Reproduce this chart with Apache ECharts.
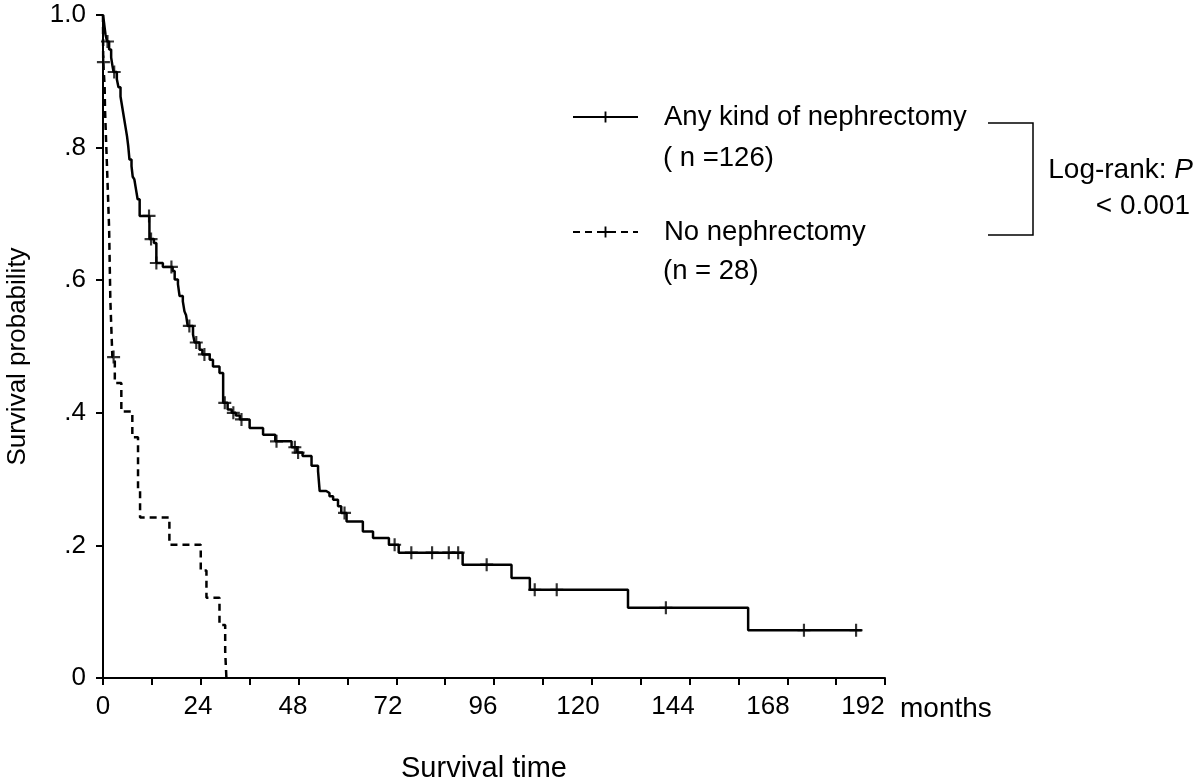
<!DOCTYPE html>
<html>
<head>
<meta charset="utf-8">
<script src="https://cdn.jsdelivr.net/npm/echarts@6/dist/echarts.min.js"></script>
<style>
html,body{margin:0;padding:0;background:#fff;}
#chart{width:1200px;height:783px;}
</style>
</head>
<body>
<div id="chart"></div>
<script>
// ---- Data ----
const seriesNames = ['Any kind of nephrectomy', 'No nephrectomy'];
const seriesCounts = ['( n =126)', '(n = 28)'];

// Kaplan-Meier step levels: survival S from month t onward
const nephTime = [0, 0.3, 0.6, 1.0, 1.5, 2.0, 2.3, 2.6, 3.4, 3.8, 4.3, 4.7, 5.1, 5.5, 5.9, 6.2, 6.5, 7.0, 7.3, 7.7, 8.1, 8.5, 9.0, 11.4, 12.5, 13.1, 14.7, 17.1, 17.6, 18.4, 18.8, 19.6, 20.0, 20.4, 20.8, 22.1, 22.5, 23.7, 24.4, 26.2, 27.0, 28.6, 29.5, 30.6, 31.6, 32.6, 33.6, 36.0, 39.3, 42.3, 46.3, 47.6, 49.0, 51.2, 52.8, 53.2, 54.8, 55.6, 56.5, 57.7, 58.5, 59.8, 63.8, 66.3, 70.2, 72.6, 88.3, 100.3, 104.8, 128.9, 158.4, 186.3];
const nephSurv = [1.000, 0.986, 0.971, 0.960, 0.948, 0.936, 0.924, 0.914, 0.903, 0.891, 0.877, 0.862, 0.847, 0.832, 0.817, 0.802, 0.782, 0.772, 0.756, 0.752, 0.737, 0.722, 0.697, 0.662, 0.656, 0.626, 0.620, 0.614, 0.601, 0.594, 0.576, 0.568, 0.553, 0.547, 0.531, 0.518, 0.506, 0.495, 0.488, 0.480, 0.470, 0.460, 0.415, 0.405, 0.400, 0.396, 0.390, 0.377, 0.367, 0.357, 0.348, 0.340, 0.335, 0.320, 0.312, 0.282, 0.279, 0.274, 0.269, 0.259, 0.249, 0.236, 0.221, 0.211, 0.201, 0.189, 0.171, 0.151, 0.133, 0.106, 0.072, 0.072];
const nephCensTime = [1.1, 2.75, 11.3, 11.8, 13.1, 16.8, 21.2, 22.9, 24.9, 29.9, 32.0, 34.0, 42.6, 47.1, 47.9, 59.3, 71.6, 75.7, 80.8, 84.9, 87.2, 94.2, 106.0, 111.4, 138.2, 172.1, 184.9];
const nephCensSurv = [0.960, 0.914, 0.697, 0.662, 0.626, 0.620, 0.531, 0.506, 0.488, 0.415, 0.400, 0.390, 0.357, 0.348, 0.340, 0.249, 0.201, 0.189, 0.189, 0.189, 0.189, 0.171, 0.133, 0.133, 0.106, 0.072, 0.072];

const noNephTime = [0, 0.05, 0.4, 0.5, 0.7, 0.9, 1.1, 1.3, 1.5, 1.6, 1.7, 1.8, 2.0, 2.3, 2.9, 4.5, 7.2, 8.6, 9.1, 16.3, 24.0, 25.4, 28.6, 30.0, 30.3];
const noNephSurv = [1.000, 0.929, 0.893, 0.857, 0.821, 0.786, 0.750, 0.714, 0.679, 0.643, 0.607, 0.571, 0.536, 0.484, 0.445, 0.402, 0.363, 0.282, 0.242, 0.201, 0.162, 0.121, 0.080, 0.040, 0.000];
const noNephCensTime = [0.1, 2.6];
const noNephCensSurv = [0.929, 0.484];

const xTicks = [0, 24, 48, 72, 96, 120, 144, 168, 192];
const yTickLabels = {0: '0', 0.2: '.2', 0.4: '.4', 0.6: '.6', 0.8: '.8', 1: '1.0'};
const xUnit = 'months';
const xTitle = 'Survival time';
const yTitle = 'Survival probability';
const testLabel = 'Log-rank: ';
const testP = 'P';
const testValue = '< 0.001';

// ---- Chart ----
const FONT = '"Liberation Sans", Arial, Helvetica, sans-serif';
const plus = 'path://M5,0 H7 V5 H12 V7 H7 V12 H5 V7 H0 V5 H5 Z';
const zip = (a, b) => a.map((v, i) => [v, b[i]]);

// In the reference the x tick labels drift slightly left of their ticks
const xMax = xTicks[xTicks.length - 1];
const xRich = {};
xTicks.forEach(v => {
  const shift = 22 * v / xMax;
  xRich['t' + v] = {fontSize: 26, fontFamily: FONT, color: '#000', padding: [0, 2 * shift, 0, 0]};
});

const chart = echarts.init(document.getElementById('chart'), null, {renderer: 'canvas'});
chart.setOption({
  animation: false,
  backgroundColor: '#fff',
  textStyle: {fontFamily: FONT, color: '#000'},
  grid: {left: 103, right: 315, top: 15, bottom: 105, containLabel: false, outerBoundsMode: 'none'},
  xAxis: {
    type: 'value', min: xTicks[0], max: xMax, interval: 24,
    name: xTitle, nameLocation: 'middle', nameGap: 76,
    nameTextStyle: {fontSize: 29, color: '#000', fontFamily: FONT, padding: [0, 20, 0, 0]},
    axisLine: {lineStyle: {color: '#000', width: 2}},
    axisTick: {length: 7, lineStyle: {color: '#000', width: 2}},
    minorTick: {show: true, splitNumber: 2, length: 7, lineStyle: {color: '#000', width: 2}},
    axisLabel: {fontSize: 26, color: '#000', margin: 16, fontFamily: FONT,
      formatter: v => '{t' + v + '|' + v + '}', rich: xRich},
    splitLine: {show: false}
  },
  yAxis: {
    type: 'value', min: 0, max: 1, interval: 0.2,
    name: yTitle, nameLocation: 'middle', nameGap: 72, nameRotate: 90,
    nameTextStyle: {fontSize: 26, color: '#000', fontFamily: FONT, padding: [0, 20, 0, 0]},
    axisLine: {show: true, lineStyle: {color: '#000', width: 2}},
    axisTick: {show: true, length: 7, lineStyle: {color: '#000', width: 2}},
    axisLabel: {fontSize: 26, color: '#000', margin: 17, fontFamily: FONT,
      formatter: v => yTickLabels[Math.round(v * 10) / 10]},
    splitLine: {show: false}
  },
  legend: {
    data: seriesNames,
    orient: 'vertical', left: 567, top: 98,
    itemWidth: 65, itemHeight: 14, itemGap: 87,
    textStyle: {fontSize: 27.5, color: '#000', fontFamily: FONT, padding: [0, 0, 0, 21]}
  },
  series: [
    {
      name: seriesNames[0], type: 'line', step: 'end',
      data: zip(nephTime, nephSurv),
      symbol: plus, showSymbol: false, color: '#000',
      lineStyle: {color: '#000', width: 2.5}, z: 3
    },
    {
      name: seriesNames[1], type: 'line', step: 'end',
      data: zip(noNephTime, noNephSurv),
      symbol: plus, showSymbol: false, color: '#000',
      lineStyle: {color: '#000', width: 2.5, type: [7, 5]}, z: 3
    },
    {
      name: seriesNames[0] + ' censored', type: 'scatter',
      data: zip(nephCensTime, nephCensSurv),
      symbol: plus, symbolSize: 13, itemStyle: {color: '#000'}, z: 4
    },
    {
      name: seriesNames[1] + ' censored', type: 'scatter',
      data: zip(noNephCensTime, noNephCensSurv),
      symbol: plus, symbolSize: 13, itemStyle: {color: '#000'}, z: 4
    }
  ],
  graphic: [
    {type: 'text', left: 900, top: 695, style: {text: xUnit, fill: '#000', font: '28px ' + FONT}},
    {type: 'text', left: 663, top: 144, style: {text: seriesCounts[0], fill: '#000', font: '27.5px ' + FONT}},
    {type: 'text', left: 663, top: 257, style: {text: seriesCounts[1], fill: '#000', font: '27.5px ' + FONT}},
    {type: 'polyline', shape: {points: [[988, 123], [1033, 123], [1033, 235], [988, 235]]},
      style: {stroke: '#000', lineWidth: 1.5, fill: null}},
    {type: 'text', right: 7, top: 156, style: {
      text: '{a|' + testLabel + '}{b|' + testP + '}',
      rich: {a: {fontSize: 28, fontFamily: FONT, fill: '#000'},
             b: {fontSize: 28, fontFamily: FONT, fontStyle: 'italic', fill: '#000'}}}},
    {type: 'text', right: 10, top: 192, style: {text: testValue, fill: '#000', font: '28px ' + FONT}}
  ]
});
</script>
</body>
</html>
